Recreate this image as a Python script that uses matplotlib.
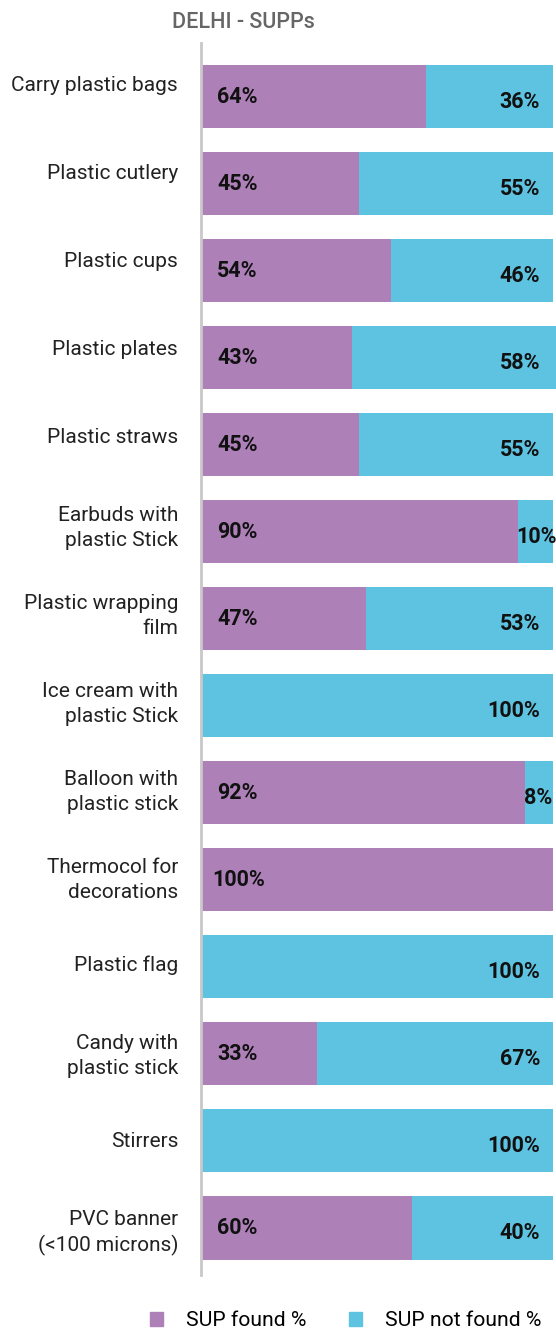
import matplotlib.pyplot as plt
import numpy as np
from matplotlib.patches import Patch

plt.rcParams['font.family'] = ['Roboto', 'DejaVu Sans']

# Categorie (dall'alto verso il basso)
categories = [
    "Carry plastic bags", "Plastic cutlery", "Plastic cups", "Plastic plates",
    "Plastic straws", "Earbuds with\nplastic Stick", "Plastic wrapping\nfilm",
    "Ice cream with\nplastic Stick", "Balloon with\nplastic stick",
    "Thermocol for\ndecorations", "Plastic flag", "Candy with\nplastic stick",
    "Stirrers", "PVC banner\n(<100 microns)"
]

# Percentuali
found = [64, 45, 54, 43, 45, 90, 47, 0, 92, 100, 0, 33, 0, 60]
not_found = [36, 55, 46, 58, 55, 10, 53, 100, 8, 0, 100, 67, 100, 40]

purple = '#ad80b8'
blue = '#5ec3e0'

W, H = 556, 1331
fig = plt.figure(figsize=(W / 100, H / 100), dpi=100)
ax = fig.add_axes([201 / W, 1 - 1275 / H, 352 / W, 1232 / H])

y = np.arange(len(categories))
ax.barh(y, found, height=0.724, color=purple, clip_on=False)
ax.barh(y, not_found, left=found, height=0.724, color=blue, clip_on=False)

# Etichette dei valori
lab = dict(fontsize=15.5, fontweight='semibold', color='#111111')
for i, (f, n) in enumerate(zip(found, not_found)):
    if f > 0:
        ax.text(3.2 if f == 100 else 4.6, i, f'{f}%', ha='left', va='center', **lab)
    if n > 0:
        if n < 15:
            ax.text(f - 0.3, i + 0.06, f'{n}%', ha='left', va='center',
                    clip_on=False, **lab)
        else:
            ax.text(96.3, i + 0.06, f'{n}%', ha='right', va='center', **lab)

ax.set_xlim(0, 100)
ax.set_ylim(len(categories) - 1 + 0.54, -0.615)

# Etichette categorie
ax.set_yticks(y + (y - 13.5) / 87)
ax.set_yticklabels(categories, fontsize=15, color='#222222', ha='right',
                   linespacing=1.4)
ax.tick_params(axis='y', length=0, pad=16.5)
ax.set_xticks([])

for s in ['top', 'right', 'bottom']:
    ax.spines[s].set_visible(False)
ax.spines['left'].set_color('#c8c8c8')
ax.spines['left'].set_linewidth(2)

fig.text(243 / W, 1 - 23 / H, 'DELHI - SUPPs', ha='center', va='center',
         fontsize=15.5, fontweight='medium', color='#666666')

# Legenda
handles = [Patch(color=purple, label='SUP found %'),
           Patch(color=blue, label='SUP not found %')]
fig.legend(handles=handles, loc='center', bbox_to_anchor=(345.5 / W, 1 - 1321 / H),
           ncol=2, frameon=False, fontsize=15.2, handlelength=0.62, handleheight=0.62,
           handletextpad=1.1, columnspacing=2.0)

fig.savefig('out.png', dpi=100)
